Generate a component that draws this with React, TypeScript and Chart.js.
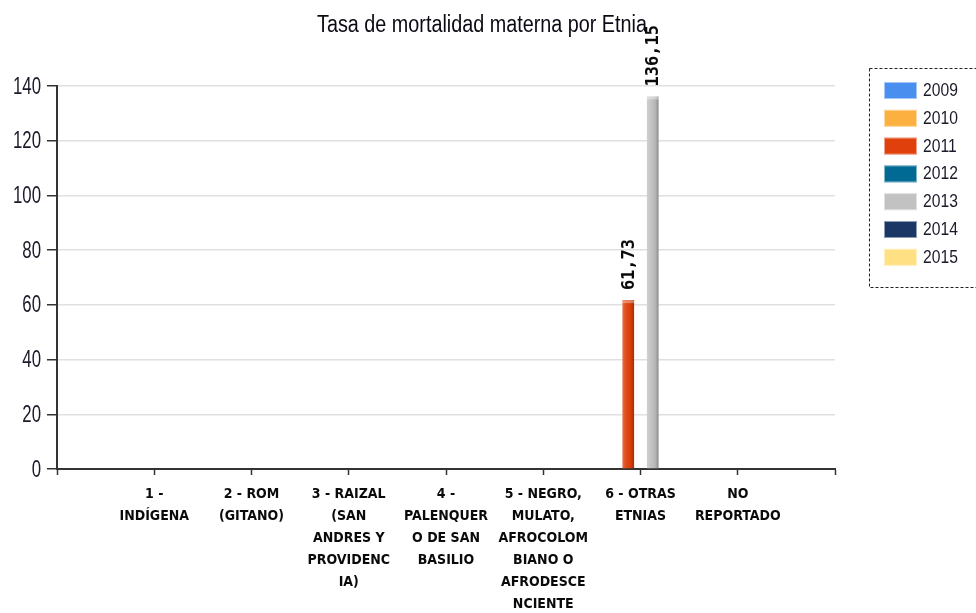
import React, { useEffect, useRef } from "react";
import { Chart, registerables } from "chart.js";

Chart.register(...registerables);

const titleText = "Tasa de mortalidad materna por Etnia";

const categories: string[][] = [
  ["1 -", "INDÍGENA"],
  ["2 - ROM", "(GITANO)"],
  ["3 - RAIZAL", "(SAN", "ANDRES Y", "PROVIDENC", "IA)"],
  ["4 -", "PALENQUER", "O DE SAN", "BASILIO"],
  ["5 - NEGRO,", "MULATO,", "AFROCOLOM", "BIANO O", "AFRODESCE", "NCIENTE"],
  ["6 - OTRAS", "ETNIAS"],
  ["NO", "REPORTADO"],
];

const years = ["2009", "2010", "2011", "2012", "2013", "2014", "2015"];
const yearColors = ["#4a8ff0", "#fbb040", "#e0400c", "#006a94", "#c2c2c2", "#1b3766", "#ffe082"];

const values2009: (number | null)[] = [null, null, null, null, null, null, null];
const values2010: (number | null)[] = [null, null, null, null, null, null, null];
const values2011: (number | null)[] = [null, null, null, null, null, 61.73, null];
const values2012: (number | null)[] = [null, null, null, null, null, null, null];
const values2013: (number | null)[] = [null, null, null, null, null, 136.15, null];
const values2014: (number | null)[] = [null, null, null, null, null, null, null];
const values2015: (number | null)[] = [null, null, null, null, null, null, null];

const seriesValues = [values2009, values2010, values2011, values2012, values2013, values2014, values2015];

const yTicks = [0, 20, 40, 60, 80, 100, 120, 140];

const SANS = '"Liberation Sans", Arial, sans-serif';

function narrowText(ctx: any, text: string, x: number, y: number, font: string, sx: number, align: string, color: string) {
  ctx.save();
  ctx.font = font;
  ctx.fillStyle = color;
  ctx.textAlign = align;
  ctx.textBaseline = "middle";
  ctx.translate(x, y);
  ctx.scale(sx, 1);
  ctx.fillText(text, 0, 0);
  ctx.restore();
}

const titlePlugin = {
  id: "customTitle",
  beforeDraw(chart: any) {
    narrowText(chart.ctx, titleText, 482, 26, `23px ${SANS}`, 0.86, "center", "#0a0a14");
  },
};

const yLabelPlugin = {
  id: "yLabels",
  afterDraw(chart: any) {
    const scale = chart.scales.y;
    scale.ticks.forEach((t: any) => {
      const py = scale.getPixelForValue(t.value);
      narrowText(chart.ctx, String(t.value), 41, py + 1, `24px ${SANS}`, 0.7, "right", "#1a1a2a");
    });
  },
};

const barStylePlugin = {
  id: "barStyle",
  afterDatasetsDraw(chart: any) {
    const ctx = chart.ctx;
    chart.data.datasets.forEach((ds: any, di: number) => {
      const meta = chart.getDatasetMeta(di);
      meta.data.forEach((el: any, i: number) => {
        const v = ds.data[i];
        if (v == null) return;
        const { x, y, base, width } = el.getProps(["x", "y", "base", "width"], true);
        const left = x - width / 2;
        ctx.save();
        const g = ctx.createLinearGradient(left, 0, left + width, 0);
        g.addColorStop(0, "rgba(255,255,255,0.25)");
        g.addColorStop(0.3, "rgba(255,255,255,0.05)");
        g.addColorStop(0.7, "rgba(0,0,0,0.05)");
        g.addColorStop(1, "rgba(0,0,0,0.28)");
        ctx.fillStyle = g;
        ctx.fillRect(left, y, width, base - y);
        ctx.fillStyle = "rgba(255,255,255,0.35)";
        ctx.fillRect(left, y, width, 3);
        ctx.restore();
        ctx.save();
        ctx.translate(x, y - 10);
        ctx.rotate(-Math.PI / 2);
        ctx.font = 'bold 17px "DejaVu Sans Mono", monospace';
        ctx.fillStyle = "#0a0a0a";
        ctx.textAlign = "left";
        ctx.textBaseline = "middle";
        ctx.fillText(v.toFixed(2).replace(".", ","), 0, 1);
        ctx.restore();
      });
    });
  },
};

const legendPlugin = {
  id: "customLegend",
  afterDraw(chart: any) {
    const ctx = chart.ctx;
    ctx.save();
    ctx.setLineDash([3, 2]);
    ctx.strokeStyle = "#222";
    ctx.lineWidth = 1;
    ctx.strokeRect(869.5, 68.5, 120, 219);
    ctx.setLineDash([]);
    chart.data.datasets.forEach((ds: any, i: number) => {
      const top = 82 + i * 27.8;
      ctx.fillStyle = ds.backgroundColor;
      ctx.fillRect(884, top, 33, 17);
      ctx.strokeStyle = "rgba(255,255,255,0.5)";
      ctx.strokeRect(884.5, top + 0.5, 32, 16);
      narrowText(ctx, ds.label, 923, top + 9, `18px ${SANS}`, 0.87, "left", "#1a1a2a");
    });
    ctx.restore();
  },
};

export default function App() {
  const canvasRef = useRef<HTMLCanvasElement | null>(null);

  useEffect(() => {
    document.body.style.margin = "0";
    const canvas = canvasRef.current;
    if (!canvas) return;
    const labels: any[] = ["", ...categories, ""];
    const datasets = years.map((yr, i) => ({
      label: yr,
      data: [null, ...seriesValues[i], null],
      backgroundColor: yearColors[i],
      borderWidth: 0,
      categoryPercentage: 0.88,
      barPercentage: 0.95,
    }));
    const chart = new Chart(canvas, {
      type: "bar",
      data: { labels, datasets },
      plugins: [titlePlugin, barStylePlugin, yLabelPlugin, legendPlugin],
      options: {
        responsive: false,
        animation: false,
        layout: { padding: { top: 86, right: 141, left: 0, bottom: 0 } },
        plugins: {
          legend: { display: false },
          title: { display: false },
          tooltip: { enabled: false },
        },
        scales: {
          x: {
            offset: false,
            afterFit(scale: any) {
              scale.height = 144;
            },
            grid: {
              display: true,
              offset: false,
              drawOnChartArea: false,
              tickLength: 6,
              tickColor: "#333",
              tickWidth: 1.5,
            },
            border: { color: "#333", width: 2 },
            ticks: {
              autoSkip: false,
              maxRotation: 0,
              minRotation: 0,
              padding: 8,
              color: "#0a0a0a",
              font: { family: '"DejaVu Sans Condensed", "DejaVu Sans", sans-serif', size: 14, weight: "bold", lineHeight: 1.57 },
            },
          },
          y: {
            min: 0,
            max: 140,
            afterFit(scale: any) {
              scale.width = 57;
            },
            afterBuildTicks(scale: any) {
              scale.ticks = yTicks.map((v) => ({ value: v }));
            },
            grid: {
              color: "#e0e0e0",
              lineWidth: 1.5,
              tickLength: 10,
              tickColor: "#333",
              tickWidth: 1.5,
            },
            border: { color: "#333", width: 2 },
            ticks: {
              display: false,
            },
          },
        },
      },
    });
    return () => chart.destroy();
  }, []);

  return (
    <div style={{ width: 976, height: 613, background: "#fff" }}>
      <canvas ref={canvasRef} width={976} height={613} style={{ display: "block" }} />
    </div>
  );
}
